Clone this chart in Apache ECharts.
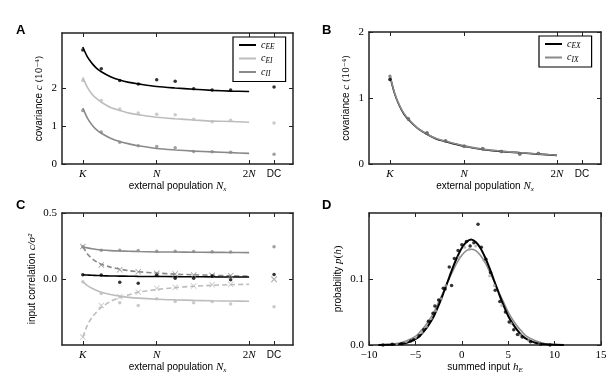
<!DOCTYPE html>
<html>
<head>
<meta charset="utf-8">
<script src="https://cdn.jsdelivr.net/npm/echarts@6/dist/echarts.min.js"></script>
<style>
  html, body { margin: 0; padding: 0; background: #fff; }
  #main { width: 615px; height: 380px; }
</style>
</head>
<body>
<div id="main"></div>
<script>
// 横轴刻度（以 N 为单位）
const nxTicks = [0.2, 1, 2, 2.27];
const nxTickText = ['K', 'N', '2N', 'DC'];
const nxCurve = [0.2, 0.25, 0.3, 0.35, 0.4, 0.5, 0.6, 0.7, 0.8, 1.0, 1.2, 1.4, 1.6, 1.8, 2.0];
const nxSim = [0.2, 0.4, 0.6, 0.8, 1.0, 1.2, 1.4, 1.6, 1.8];
const dcX = 2.27;

// A：协方差
const cEECurve = [3.08, 2.82, 2.65, 2.52, 2.43, 2.30, 2.21, 2.15, 2.11, 2.04, 2.00, 1.97, 1.94, 1.92, 1.91];
const cEICurve = [2.28, 2.02, 1.84, 1.72, 1.63, 1.49, 1.41, 1.34, 1.30, 1.23, 1.19, 1.16, 1.13, 1.12, 1.10];
const cIICurve = [1.47, 1.21, 1.03, 0.90, 0.81, 0.68, 0.59, 0.53, 0.48, 0.41, 0.37, 0.34, 0.32, 0.30, 0.28];
const cEESim = [3.00, 2.51, 2.20, 2.11, 2.22, 2.18, 1.98, 1.95, 1.95];
const cEISim = [2.20, 1.67, 1.45, 1.34, 1.31, 1.30, 1.18, 1.11, 1.15];
const cIISim = [1.41, 0.84, 0.57, 0.48, 0.46, 0.43, 0.33, 0.32, 0.31];
const cEEDC = 2.03, cEIDC = 1.08, cIIDC = 0.26;

// B：外部输入协方差
const cEXCurve = [1.34, 1.07, 0.89, 0.76, 0.67, 0.54, 0.45, 0.38, 0.34, 0.27, 0.22, 0.19, 0.17, 0.15, 0.13];
const cIXCurve = [1.35, 1.08, 0.90, 0.77, 0.68, 0.545, 0.455, 0.385, 0.345, 0.275, 0.225, 0.195, 0.172, 0.152, 0.133];
const cEXSim = [1.28, 0.68, 0.47, 0.35, 0.27, 0.23, 0.19, 0.15, 0.16];
const cIXSim = [1.33, 0.68, 0.47, 0.35, 0.27, 0.23, 0.19, 0.15, 0.16];

// C：输入相关系数
const rTopCurve = [0.245, 0.236, 0.229, 0.224, 0.220, 0.215, 0.212, 0.210, 0.208, 0.205, 0.204, 0.203, 0.202, 0.201, 0.200];
const rTopSim = [0.245, 0.218, 0.218, 0.215, 0.210, 0.210, 0.208, 0.207, 0.205];
const rTopDC = 0.245;
const rTopDashCurve = [0.245, 0.19, 0.155, 0.13, 0.112, 0.09, 0.075, 0.063, 0.055, 0.045, 0.037, 0.032, 0.028, 0.024, 0.022];
const rTopDashSim = [0.246, 0.107, 0.07, 0.055, 0.043, 0.038, 0.030, 0.028, 0.025];
const rTopDashDC = 0.0;
const rMidCurve = [0.032, 0.030, 0.028, 0.027, 0.025, 0.023, 0.022, 0.021, 0.020, 0.019, 0.018, 0.017, 0.016, 0.015, 0.015];
const rMidSim = [0.032, 0.03, -0.025, -0.032, 0.028, 0.005, 0.005, 0.022, -0.005];
const rMidDC = 0.035;
const rLowCurve = [-0.02, -0.05, -0.07, -0.087, -0.10, -0.118, -0.13, -0.139, -0.145, -0.153, -0.158, -0.162, -0.165, -0.167, -0.168];
const rLowSim = [-0.02, -0.11, -0.18, -0.20, -0.15, -0.17, -0.18, -0.17, -0.19];
const rLowDC = -0.21;
const rLowDashCurve = [-0.44, -0.35, -0.29, -0.25, -0.215, -0.17, -0.14, -0.12, -0.10, -0.08, -0.065, -0.055, -0.048, -0.043, -0.04];
const rLowDashSim = [-0.44, -0.20, -0.135, -0.10, -0.07, -0.063, -0.053, -0.043, -0.04];
const rLowDashDC = -0.005;

// D：总输入分布
const hCurve = [-9, -8, -7, -6, -5, -4.5, -4, -3.5, -3, -2.5, -2, -1.5, -1, -0.5, 0, 0.5, 1, 1.5, 2, 2.5, 3, 3.5, 4, 4.5, 5, 5.5, 6, 6.5, 7, 8, 9, 10, 11];
const pBlackCurve = [0.000, 0.0003, 0.001, 0.003, 0.009, 0.014, 0.022, 0.032, 0.044, 0.060, 0.078, 0.097, 0.116, 0.133, 0.147, 0.156, 0.160, 0.156, 0.147, 0.133, 0.116, 0.097, 0.078, 0.060, 0.044, 0.032, 0.022, 0.014, 0.009, 0.003, 0.001, 0.0003, 0.000];
const pGrayCurve = [0.0002, 0.0007, 0.002, 0.006, 0.013, 0.020, 0.028, 0.038, 0.050, 0.065, 0.080, 0.096, 0.111, 0.125, 0.136, 0.143, 0.145, 0.143, 0.136, 0.125, 0.111, 0.096, 0.080, 0.065, 0.050, 0.038, 0.028, 0.020, 0.013, 0.006, 0.002, 0.0007, 0.0002];
const hBlackPts = [-8.5, -7.5, -6.5, -5.5, -5.2, -4.6, -4.1, -3.6, -3.1, -2.9, -2.5, -2.0, -1.8, -1.35, -1.1, -0.8, -0.4, 0.0, 0.5, 0.9, 1.3, 1.75, 2.1, 2.6, 3.1, 3.6, 4.1, 4.7, 5.1, 5.6, 6.0, 6.5, 7.4, 8.5, 9.5];
const pBlackPts = [0.000, 0.001, 0.002, 0.006, 0.008, 0.014, 0.023, 0.036, 0.048, 0.059, 0.068, 0.086, 0.085, 0.118, 0.090, 0.131, 0.143, 0.152, 0.157, 0.150, 0.155, 0.183, 0.148, 0.130, 0.110, 0.083, 0.066, 0.050, 0.035, 0.023, 0.016, 0.012, 0.005, 0.001, 0.000];
const hGrayPts = [-7, -6, -5, -4.3, -3.8, -3.3, -2.8, -2.2, -1.7, -0.3, 0.3, 0.8, 1.5, 2.4, 3.0, 3.5, 4.3, 5.3, 6.3, 7.2, 8.4];
const pGrayPts = [0.002, 0.005, 0.011, 0.019, 0.028, 0.040, 0.052, 0.070, 0.090, 0.133, 0.148, 0.145, 0.150, 0.128, 0.105, 0.090, 0.060, 0.033, 0.015, 0.007, 0.002];

const BLACK = '#000000';
const LIGHT = '#bdbdbd';
const MID = '#8a8a8a';
const AXIS = '#222';
const SERIF = 'Liberation Serif';
const SANS = 'Liberation Sans';
const crossPath = 'path://M0,1L1,0L5,4L9,0L10,1L6,5L10,9L9,10L5,6L1,10L0,9L4,5Z';

const chart = echarts.init(document.getElementById('main'));

const rich = {
  s: { fontFamily: SANS, fontSize: 10, color: '#000' },
  m: { fontFamily: SERIF, fontStyle: 'italic', fontSize: 11, color: '#000' },
  n: { fontFamily: SERIF, fontSize: 11, color: '#000' },
  sub: { fontFamily: SERIF, fontStyle: 'italic', fontSize: 7, color: '#000', padding: [6, 0, 0, 0] },
  p: { fontFamily: 'DejaVu Serif', fontSize: 9, color: '#000' }
};

const grids = [
  { left: 62, top: 33, width: 231, height: 131 },
  { left: 369, top: 32, width: 232, height: 132 },
  { left: 62, top: 213, width: 231, height: 132 },
  { left: 369, top: 213, width: 232, height: 132 }
];

function nxLabel(v) {
  const i = nxTicks.findIndex(t => Math.abs(t - v) < 1e-6);
  if (i < 0) return '';
  if (i === 2) return '{n|2}{m|N}';
  if (i === 3) return '{s|DC}';
  return '{m|' + nxTickText[i] + '}';
}

const xAxes = [];
const yAxes = [];

function addAxes(g, xc, yc) {
  xAxes.push({
    type: 'value', gridIndex: g, position: 'bottom', min: xc.min, max: xc.max,
    interval: xc.interval,
    name: xc.name, nameLocation: 'middle', nameGap: 13,
    nameTextStyle: { rich },
    axisLine: { show: true, onZero: false, lineStyle: { color: AXIS, width: 1.5 } },
    axisTick: { show: true, inside: true, length: 4, customValues: xc.ticks, lineStyle: { color: AXIS } },
    axisLabel: { show: true, customValues: xc.ticks, formatter: xc.fmt, margin: 5, rich,
      fontFamily: SERIF, fontSize: 11, color: '#000' },
    splitLine: { show: false }
  });
  xAxes.push({
    type: 'value', gridIndex: g, position: 'top', min: xc.min, max: xc.max,
    interval: xc.interval,
    axisLine: { show: true, onZero: false, lineStyle: { color: AXIS, width: 1.5 } },
    axisTick: { show: true, inside: true, length: 4, customValues: xc.ticks, lineStyle: { color: AXIS } },
    axisLabel: { show: false },
    splitLine: { show: false }
  });
  yAxes.push({
    type: 'value', gridIndex: g, position: 'left', min: yc.min, max: yc.max,
    name: yc.name, nameLocation: 'middle', nameGap: yc.gap,
    nameTextStyle: { rich },
    axisLine: { show: true, onZero: false, lineStyle: { color: AXIS, width: 1.5 } },
    axisTick: { show: true, inside: true, length: 4, customValues: yc.ticks, lineStyle: { color: AXIS } },
    axisLabel: { show: true, customValues: yc.labels, formatter: yc.fmt, margin: 5,
      fontFamily: SERIF, fontSize: 11, color: '#000' },
    splitLine: { show: false }
  });
  yAxes.push({
    type: 'value', gridIndex: g, position: 'right', min: yc.min, max: yc.max,
    axisLine: { show: true, onZero: false, lineStyle: { color: AXIS, width: 1.5 } },
    axisTick: { show: true, inside: true, length: 4, customValues: yc.ticks, lineStyle: { color: AXIS } },
    axisLabel: { show: false },
    splitLine: { show: false }
  });
}

const nxName = '{s|external population }{m|N}{sub|x}';
const nxAxis = { min: -0.025, max: 2.475, ticks: nxTicks, fmt: nxLabel, name: nxName };

addAxes(0, nxAxis, { min: 0, max: 3.45, ticks: [0, 1, 2], labels: [0, 1, 2], fmt: v => String(v),
  name: '{s|covariance }{m|c}{p| (10⁻⁴)}', gap: 17 });
addAxes(1, nxAxis, { min: 0, max: 2, ticks: [0, 1, 2], labels: [0, 1, 2], fmt: v => String(v),
  name: '{s|covariance }{m|c}{p| (10⁻⁴)}', gap: 17 });
addAxes(2, nxAxis, { min: -0.5, max: 0.5, ticks: [0, 0.5], labels: [0, 0.5], fmt: v => v.toFixed(1),
  name: '{s|input correlation }{m|c/σ²}', gap: 24 });
addAxes(3, { min: -10, max: 15, interval: 5, ticks: [-10, -5, 0, 5, 10, 15],
  fmt: v => String(v).replace('-', '−'), name: '{s|summed input }{m|h}{sub|E}' },
  { min: 0, max: 0.2, ticks: [0, 0.1], labels: [0, 0.1], fmt: v => v.toFixed(1),
  name: '{s|probability }{m|p}{n|(}{m|h}{n|)}', gap: 25 });

function pairs(xs, ys) {
  return xs.map((x, i) => [x, ys[i]]);
}

function lineSer(name, g, xs, ys, color, dashed, width) {
  return {
    type: 'line', name, xAxisIndex: 2 * g, yAxisIndex: 2 * g,
    data: pairs(xs, ys), smooth: 0.3, showSymbol: false, silent: true,
    lineStyle: { color, width: width || 1.6, type: dashed ? [5, 3] : 'solid' },
    itemStyle: { color }, z: 3
  };
}

function dotSer(g, data, color, symbol, size) {
  return {
    type: 'scatter', xAxisIndex: 2 * g, yAxisIndex: 2 * g, data, silent: true,
    symbol: symbol || 'circle', symbolSize: size || 3.5,
    itemStyle: { color }, z: 4
  };
}

const series = [
  // A
  lineSer('cEE', 0, nxCurve, cEECurve, BLACK),
  lineSer('cEI', 0, nxCurve, cEICurve, LIGHT),
  lineSer('cII', 0, nxCurve, cIICurve, MID),
  dotSer(0, pairs(nxSim, cEESim).concat([[dcX, cEEDC]]), BLACK),
  dotSer(0, pairs(nxSim, cEISim).concat([[dcX, cEIDC]]), LIGHT),
  dotSer(0, pairs(nxSim, cIISim).concat([[dcX, cIIDC]]), MID),
  // B
  lineSer('cEX', 1, nxCurve, cEXCurve, BLACK),
  lineSer('cIX', 1, nxCurve, cIXCurve, MID),
  dotSer(1, pairs(nxSim, cEXSim), BLACK),
  dotSer(1, pairs(nxSim, cIXSim), MID),
  // C
  lineSer('rTop', 2, nxCurve, rTopCurve, MID),
  lineSer('rTopDash', 2, nxCurve, rTopDashCurve, MID, true),
  lineSer('rMid', 2, nxCurve, rMidCurve, BLACK),
  lineSer('rLow', 2, nxCurve, rLowCurve, LIGHT),
  lineSer('rLowDash', 2, nxCurve, rLowDashCurve, LIGHT, true),
  dotSer(2, pairs(nxSim, rTopSim).concat([[dcX, rTopDC]]), MID),
  dotSer(2, pairs(nxSim, rTopDashSim).concat([[dcX, rTopDashDC]]), MID, crossPath, 6),
  dotSer(2, pairs(nxSim, rMidSim).concat([[dcX, rMidDC]]), BLACK),
  dotSer(2, pairs(nxSim, rLowSim).concat([[dcX, rLowDC]]), LIGHT),
  dotSer(2, pairs(nxSim, rLowDashSim).concat([[dcX, rLowDashDC]]), LIGHT, crossPath, 6),
  // D
  lineSer('pGray', 3, hCurve, pGrayCurve, MID, false, 1.5),
  lineSer('pBlack', 3, hCurve, pBlackCurve, BLACK, false, 2),
  dotSer(3, pairs(hGrayPts, pGrayPts), '#a8a8a8', 'circle', 3),
  dotSer(3, pairs(hBlackPts, pBlackPts), BLACK, 'circle', 3.5)
];

const legendLabels = { cEE: 'EE', cEI: 'EI', cII: 'II', cEX: 'EX', cIX: 'IX' };
const legendRich = {
  c: { fontFamily: SERIF, fontStyle: 'italic', fontSize: 10, color: '#000' },
  sub: { fontFamily: SERIF, fontStyle: 'italic', fontSize: 7.5, color: '#000', padding: [5, 0, 0, 0] }
};
function legendBox(left, top, names) {
  return {
    orient: 'vertical', left, top, data: names, icon: 'rect',
    itemWidth: 17, itemHeight: 2, itemGap: 2,
    padding: [3, 11, 3, 6], borderColor: '#000', borderWidth: 1.2,
    backgroundColor: '#fff', selectedMode: false,
    formatter: name => '{c|c}{sub|' + legendLabels[name] + '}',
    textStyle: { rich: legendRich }
  };
}

chart.setOption({
  animation: false,
  backgroundColor: '#fff',
  grid: grids,
  xAxis: xAxes,
  yAxis: yAxes,
  legend: [
    legendBox(233, 37, ['cEE', 'cEI', 'cII']),
    legendBox(539, 36, ['cEX', 'cIX'])
  ],
  graphic: [
    { type: 'text', left: 16, top: 24, style: { text: 'A', font: 'bold 13px "Liberation Sans"', fill: '#000' } },
    { type: 'text', left: 322, top: 24, style: { text: 'B', font: 'bold 13px "Liberation Sans"', fill: '#000' } },
    { type: 'text', left: 16, top: 199, style: { text: 'C', font: 'bold 13px "Liberation Sans"', fill: '#000' } },
    { type: 'text', left: 322, top: 199, style: { text: 'D', font: 'bold 13px "Liberation Sans"', fill: '#000' } }
  ],
  series
});
</script>
</body>
</html>
